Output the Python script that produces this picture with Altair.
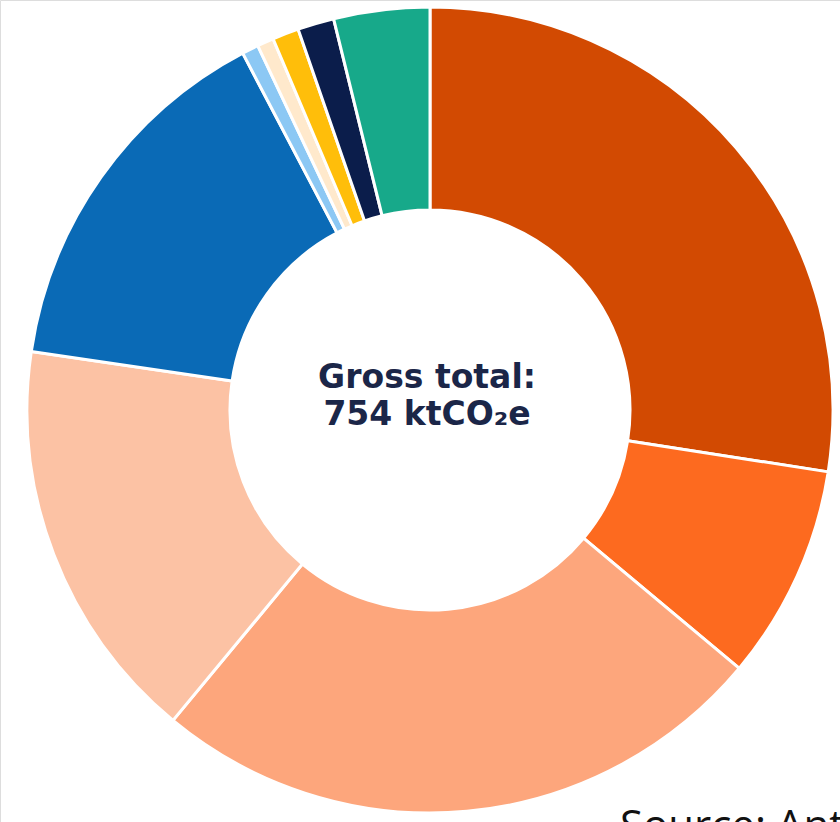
import altair as alt
import pandas as pd

categories = ["A", "B", "C", "D", "E", "F", "G", "H", "I", "J"]
values = [207, 65, 188, 123, 113, 5, 5, 8, 11, 29]
colors = ["#D24A02", "#FD6A1F", "#FDA67C", "#FCC2A4", "#0A6AB6",
          "#8CC8F4", "#FFE9CC", "#FFBE0A", "#0B1D4B", "#17A98A"]
center_lines = ["Gross total:", "754 ktCO₂e"]
source_text = "Source: Anthesis"

df = pd.DataFrame({"cat": categories, "value": values, "order": list(range(len(values)))})

cx, cy = 430, 410

arc = alt.Chart(df).mark_arc(
    innerRadius=200, outerRadius=403, stroke="white", strokeWidth=3
).encode(
    theta=alt.Theta("value:Q", stack=True),
    order=alt.Order("order:Q"),
    color=alt.Color("cat:N", scale=alt.Scale(domain=categories, range=colors), legend=None),
    x=alt.value(cx),
    y=alt.value(cy),
)

txt = alt.Chart(pd.DataFrame({"t": ["\n".join(center_lines)]})).mark_text(
    font="DejaVu Sans", fontWeight="bold", fontSize=33, color="#1B2648",
    align="center", baseline="alphabetic", lineBreak="\n", lineHeight=37
).encode(
    text="t:N",
    x=alt.value(cx - 3),
    y=alt.value(388),
)

src = alt.Chart(pd.DataFrame({"t": [source_text]})).mark_text(
    font="Open Sans", fontSize=42, color="#111111", align="left", baseline="alphabetic"
).encode(
    text="t:N",
    x=alt.value(620),
    y=alt.value(840),
)

chart = alt.layer(arc, txt, src).properties(
    width=840, height=822, autosize=alt.AutoSizeParams(type="none"), padding=0
).configure_view(stroke=None).configure(background="white")

chart.save("out.html", embed_options={"renderer": "svg", "actions": False})
